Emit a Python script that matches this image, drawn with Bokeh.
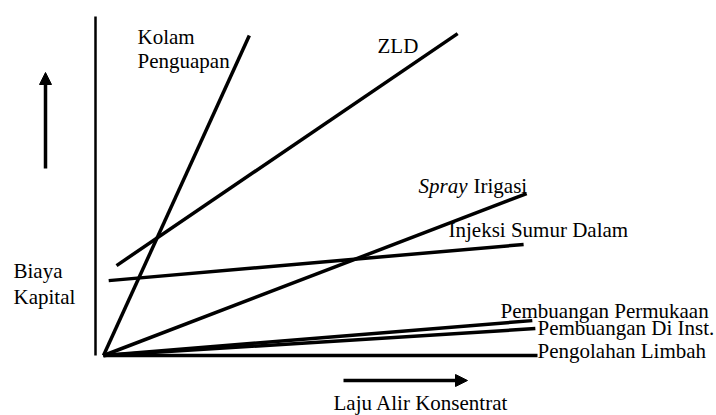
from bokeh.plotting import figure
from bokeh.models import Range1d, Arrow, NormalHead, ColumnDataSource
from bokeh.core.properties import value
from bokeh.embed import file_html
from bokeh.resources import INLINE

# ---- data (conceptual chart units: flow on x, capital cost on y) ----
series = ["Kolam Penguapan", "ZLD", "Spray Irigasi", "Injeksi Sumur Dalam",
          "Pembuangan Permukaan", "Pembuangan Di Inst.", "Pengolahan Limbah"]
x_start = [0.0, 0.30, 0.0, 0.12, 0.0, 0.0, 0.0]
y_start = [0.0, 2.81, 0.0, 2.34, 0.0, 0.0, 0.0]
x_end = [3.36, 8.16, 9.75, 9.68, 9.88, 9.95, 10.0]
y_end = [10.0, 10.06, 5.06, 3.47, 1.09, 0.84, 0.0]

y_axis_title = ["Biaya", "Kapital"]
x_axis_title = "Laju Alir Konsentrat"

# ---- layout helpers ----
SX, SY = 43.4, 32.0          # pixels per chart unit
OX, OY = 103, 355            # origin position on the page
TEXT_DY = -8                 # renderer baseline correction (px)


def P(px, py):
    """page pixel -> chart units (for annotations only)"""
    return (px - OX) / SX, (OY - py) / SY


FONT = value("Times New Roman, Liberation Serif, serif")
W, H = 716, 415
x0, y1 = P(0, 0)
x1, y0 = P(W, H)

p = figure(width=W, height=H, output_backend="svg", toolbar_location=None,
           x_range=Range1d(x0, x1), y_range=Range1d(y0, y1),
           min_border=0, min_border_left=0, min_border_right=0,
           min_border_top=0, min_border_bottom=0)
p.axis.visible = False
p.grid.visible = False
p.outline_line_color = None
p.background_fill_color = "white"
p.border_fill_color = "white"

src = ColumnDataSource(dict(x0=x_start, y0=y_start, x1=x_end, y1=y_end, name=series))
p.segment("x0", "y0", "x1", "y1", source=src, line_color="black", line_width=3.5)

# vertical axis line
ax_x0, ax_y0 = P(95, 355)
ax_x1, ax_y1 = P(95, 16)
p.segment([ax_x0], [ax_y0], [ax_x1], [ax_y1], line_color="black", line_width=2.5)

# arrows
head = dict(size=12, fill_color="black", line_color="black")
ux0, uy0 = P(45, 168)
ux1, uy1 = P(45, 72)
p.add_layout(Arrow(end=NormalHead(**head), x_start=ux0, y_start=uy0, x_end=ux1, y_end=uy1,
                   line_width=3.5, line_color="black"))
rx0, ry0 = P(343, 380)
rx1, ry1 = P(467, 380)
p.add_layout(Arrow(end=NormalHead(**head), x_start=rx0, y_start=ry0, x_end=rx1, y_end=ry1,
                   line_width=3.5, line_color="black"))

# labels
labels = [
    ("Kolam", 137, 44, "normal"),
    ("Penguapan", 137, 68, "normal"),
    ("ZLD", 377, 53, "normal"),
    ("Spray", 418, 193, "italic"),
    ("Irigasi", 473, 193, "normal"),
    ("Injeksi Sumur Dalam", 448, 237, "normal"),
    ("Pembuangan Permukaan", 500, 318, "normal"),
    ("Pembuangan Di Inst.", 537, 335, "normal"),
    ("Pengolahan Limbah", 537, 358, "normal"),
    (y_axis_title[0], 13, 278, "normal"),
    (y_axis_title[1], 13, 304, "normal"),
    (x_axis_title, 333, 410, "normal"),
]
for txt, px, py, style in labels:
    lx, ly = P(px, py + TEXT_DY)
    p.text([lx], [ly], text=[txt], text_font=FONT, text_font_size="21px",
           text_font_style=style, text_color="black",
           text_align="left", text_baseline="alphabetic")

open("out.html", "w").write(file_html(p, INLINE))
